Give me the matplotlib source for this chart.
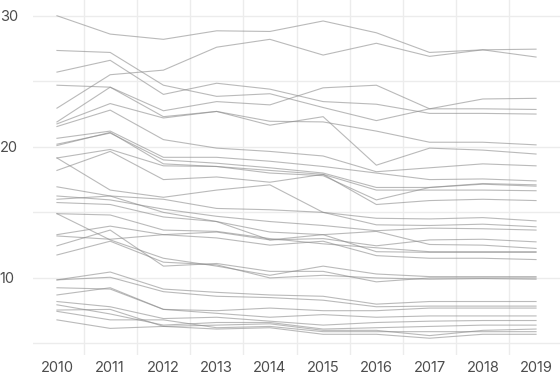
import numpy as np
import matplotlib
matplotlib.use('Agg')
import matplotlib.pyplot as plt

plt.rcParams['font.family'] = ['Inter', 'DejaVu Sans']

years = list(range(2010, 2020))

# one row per series, values 2010..2019
series = [
    [30.0, 28.6, 28.2, 28.85, 28.8, 29.6, 28.7, 27.2, 27.4, 27.45],
    [22.95, 25.5, 25.85, 27.6, 28.2, 27.0, 27.9, 26.9, 27.4, 26.85],
    [27.35, 27.2, 24.7, 23.85, 24.05, 23.0, 22.0, 22.9, 22.9, 22.85],
    [25.7, 26.6, 24.0, 24.85, 24.4, 23.45, 23.25, 22.55, 22.55, 22.5],
    [24.7, 24.55, 22.75, 23.45, 23.2, 24.5, 24.7, 22.9, 23.65, 23.7],
    [21.9, 24.55, 22.3, 22.7, 21.65, 22.3, 18.6, 19.9, 19.75, 19.45],
    [21.75, 23.3, 22.2, 22.7, 21.95, 21.9, 21.2, 20.35, 20.35, 20.15],
    [21.55, 22.8, 20.55, 19.9, 19.65, 19.3, 18.1, 18.4, 18.7, 18.55],
    [20.65, 21.2, 19.2, 19.2, 18.9, 18.5, 18.0, 17.5, 17.55, 17.4],
    [20.2, 21.05, 19.0, 18.75, 18.4, 18.0, 16.9, 16.9, 17.2, 17.1],
    [20.1, 21.1, 18.7, 18.5, 18.2, 17.9, 16.7, 16.7, 16.7, 16.65],
    [19.15, 19.8, 18.55, 18.5, 18.0, 17.8, 15.95, 16.9, 17.15, 17.0],
    [18.2, 19.65, 17.5, 17.7, 17.3, 17.9, 15.6, 15.9, 16.0, 15.9],
    [19.15, 16.7, 16.15, 16.7, 17.1, 15.0, 14.55, 14.5, 14.6, 14.35],
    [16.95, 16.25, 16.0, 15.3, 15.2, 15.0, 14.05, 14.0, 14.1, 13.9],
    [16.25, 15.95, 15.25, 14.7, 14.3, 14.0, 13.6, 13.8, 13.75, 13.65],
    [16.0, 16.25, 15.0, 14.3, 13.5, 13.3, 13.55, 12.55, 12.5, 12.25],
    [15.75, 15.6, 14.65, 14.3, 12.9, 13.0, 12.45, 12.9, 12.95, 12.75],
    [14.9, 14.8, 13.65, 13.55, 13.0, 12.6, 12.3, 12.0, 12.0, 12.0],
    [13.3, 13.95, 13.3, 13.05, 12.5, 12.8, 11.7, 11.5, 11.5, 11.4],
    [13.2, 12.95, 13.3, 13.5, 12.9, 13.3, 12.0, 11.95, 11.95, 11.95],
    [14.9, 12.9, 11.5, 10.9, 10.2, 10.9, 10.3, 10.1, 10.1, 10.1],
    [12.45, 13.65, 10.9, 11.1, 10.5, 10.5, 9.7, 10.0, 10.0, 10.0],
    [11.75, 12.8, 11.2, 11.0, 10.0, 10.2, 10.0, 9.9, 9.95, 9.9],
    [9.85, 10.45, 9.15, 8.9, 8.7, 8.6, 8.0, 8.2, 8.2, 8.2],
    [9.85, 10.05, 8.95, 8.6, 8.5, 8.3, 7.8, 7.85, 7.85, 7.85],
    [9.25, 9.15, 7.6, 7.5, 7.7, 7.5, 7.5, 7.7, 7.7, 7.7],
    [8.7, 9.25, 7.6, 7.3, 7.0, 7.2, 7.0, 7.1, 7.1, 7.1],
    [8.2, 7.8, 6.9, 7.0, 6.7, 6.4, 6.6, 6.7, 6.75, 6.75],
    [7.95, 7.25, 6.4, 6.6, 6.6, 6.1, 6.2, 6.3, 6.4, 6.4],
    [7.55, 7.6, 6.3, 6.4, 6.5, 6.0, 6.0, 5.6, 6.0, 6.1],
    [7.45, 6.8, 6.8, 6.2, 6.3, 5.9, 5.9, 5.9, 5.9, 5.9],
    [6.8, 6.15, 6.3, 6.1, 6.2, 5.7, 5.7, 5.4, 5.7, 5.7],
]

y_ticks = [10, 20, 30]
x_ticks = years

fig = plt.figure(figsize=(5.6, 3.77), dpi=100)
ax = fig.add_axes([33 / 560, 22 / 377, 527 / 560, 355 / 377])

for s in series:
    ax.plot(years, s, color='#8c8c8c', alpha=0.6, linewidth=0.8, zorder=3)

ax.set_xlim(2009.55, 2019.45)
ax.set_ylim(4.12, 31.2)

# gridlines: horizontal every 5, vertical between years
for v in range(5, 31, 5):
    ax.axhline(v, color='#ececec', linewidth=1.0, zorder=1)
for x in np.arange(2010.5, 2019, 1.0):
    ax.axvline(x, color='#ececec', linewidth=1.0, zorder=1)

ax.set_xticks(x_ticks)
ax.set_xticklabels([str(y) for y in x_ticks])
ax.set_yticks(y_ticks)
ax.set_yticklabels([str(v) for v in y_ticks], ha='left')
ax.tick_params(axis='both', length=0, labelsize=10.5, labelcolor='#4d4d4d')
ax.tick_params(axis='y', pad=24)
ax.tick_params(axis='x', pad=4)
for sp in ax.spines.values():
    sp.set_visible(False)

fig.savefig('out.png', dpi=100)
